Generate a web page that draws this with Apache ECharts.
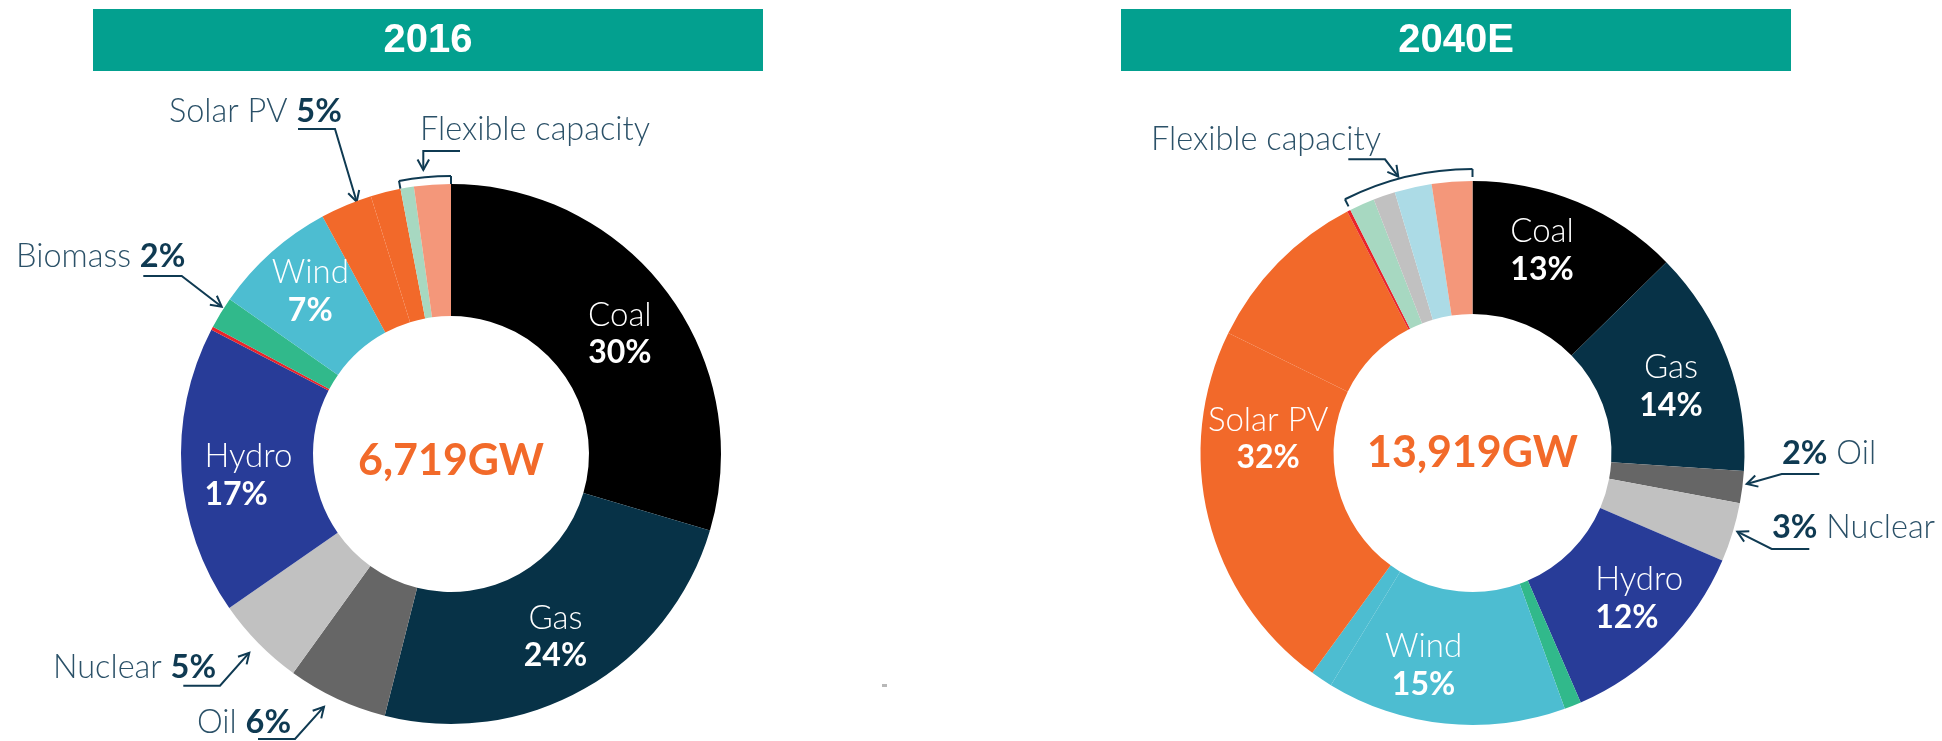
<!DOCTYPE html>
<html><head><meta charset="utf-8">
<script src="https://cdn.jsdelivr.net/npm/echarts@6/dist/echarts.min.js"></script>
<style>html,body{margin:0;padding:0;background:#fff}#c{width:1942px;height:741px}</style>
</head><body><div id="c"></div>
<script>
// ---------- data ----------
const years = ['2016', '2040E'];
const totals = ['6,719GW', '13,919GW'];

const names2016 = ['Coal', 'Gas', 'Oil', 'Nuclear', 'Hydro', 'Other', 'Biomass', 'Wind',
  'Solar PV (utility)', 'Solar PV (rooftop)', 'Flexible A', 'Flexible B'];
const values2016 = [29.6, 24.4, 6.0, 5.4, 17.3, 0.2, 1.9, 7.4, 3.1, 1.8, 0.8, 2.2];
const shown2016 = ['30%', '24%', '6%', '5%', '17%', '', '2%', '7%', '5%', '', '', ''];
const labelName2016 = ['Coal', 'Gas', 'Oil', 'Nuclear', 'Hydro', '', 'Biomass', 'Wind', 'Solar PV', '', '', ''];
const inside2016 = [1, 1, 0, 0, 1, 0, 0, 1, 0, 0, 0, 0];
const flex2016 = [10, 11];

const names2040 = ['Coal', 'Gas', 'Oil', 'Nuclear', 'Hydro', 'Biomass', 'Wind (onshore)', 'Wind (offshore)',
  'Solar PV (utility)', 'Solar PV (rooftop)', 'Other', 'Flexible A', 'Flexible B', 'Flexible C', 'Flexible D'];
const values2040 = [12.6, 13.4, 1.9, 3.5, 12.0, 1.0, 14.2, 1.3, 22.2, 10.1, 0.2, 1.5, 1.3, 2.2, 2.4];
const shown2040 = ['13%', '14%', '2%', '3%', '12%', '', '15%', '', '32%', '', '', '', '', '', ''];
const labelName2040 = ['Coal', 'Gas', 'Oil', 'Nuclear', 'Hydro', '', 'Wind', '', 'Solar PV', '', '', '', '', '', ''];
const inside2040 = [1, 1, 0, 0, 1, 0, 1, 0, 1, 0, 0, 0, 0, 0, 0];
const flex2040 = [11, 12, 13, 14];

// ---------- styles ----------
const colors2016 = ['#000000', '#073247', '#666666', '#c1c1c1', '#283c98', '#e9242b', '#31b98b', '#4dbdd1',
  '#f2692a', '#f2692a', '#a7d8c1', '#f4977a'];
const colors2040 = ['#000000', '#073247', '#666666', '#c1c1c1', '#283c98', '#31b98b', '#4dbdd1', '#4dbdd1',
  '#f2692a', '#f2692a', '#e9242b', '#a7d8c1', '#c1c1c1', '#acdbe6', '#f4977a'];

const TEAL = '#03a08f', ORANGE = '#f26a2a', INK = '#0f3a52', INK_LIGHT = '#2b5168';
const FONT = 'Lato, "Open Sans", sans-serif';

const layout = {
  centers: [[451, 454], [1472.5, 453]],
  radius: [[138, 270], [139, 272]],
  titleBars: [[93, 9, 670, 62], [1121, 9, 670, 62]],
  totalDy: [7, 0],
  // in-slice label nudges [dx, dy] by data index
  nudges: [
    {0: [3, 4], 1: [2, 3], 4: [4, 8], 7: [-3, -8]},
    {0: [-11, -10], 1: [3, 6], 4: [19, -2], 6: [-28, 5], 8: [-2, -64]}
  ],
  leftAlign: [{4: true}, {4: true}],
  bracket: [{r: 278, tick: 8}, {r: 284, tick: 8}]
};

function buildData(names, values, shown, labelNames, inside, colors, si) {
  return names.map((n, i) => ({
    name: n,
    value: values[i],
    itemStyle: {color: colors[i]},
    label: {
      show: !!inside[i],
      formatter: '{n|' + labelNames[i] + '}\n{p|' + shown[i] + '}',
      rich: {
        n: {fontFamily: FONT, fontWeight: 300, fontSize: 33, color: '#fff', lineHeight: 38,
            align: layout.leftAlign[si][i] ? 'left' : 'center'},
        p: {fontFamily: FONT, fontWeight: 'bold', fontSize: 32, color: '#fff', lineHeight: 38,
            align: layout.leftAlign[si][i] ? 'left' : 'center'}
      }
    }
  }));
}

function pieSeries(si, data) {
  return {
    type: 'pie',
    center: layout.centers[si],
    radius: layout.radius[si],
    startAngle: 90,
    clockwise: true,
    avoidLabelOverlap: false,
    silent: true,
    animation: false,
    emphasis: {disabled: true},
    itemStyle: {borderWidth: 0},
    label: {position: 'inside'},
    labelLine: {show: false},
    labelLayout: function (p) {
      const o = layout.nudges[si][p.dataIndex];
      return o ? {dx: o[0], dy: o[1]} : {};
    },
    data: data
  };
}

// ---------- graphics helpers ----------
const g = [];
function polyline(points, w) {
  g.push({type: 'polyline', silent: true, shape: {points: points},
    style: {stroke: INK, lineWidth: w || 2, fill: null, lineJoin: 'miter'}});
}
function arrow(points) {
  polyline(points);
  const t = points[points.length - 1], f = points[points.length - 2];
  const a = Math.atan2(t[1] - f[1], t[0] - f[0]);
  const L = 12, s = 0.5;
  const p1 = [t[0] - L * Math.cos(a - s), t[1] - L * Math.sin(a - s)];
  const p2 = [t[0] - L * Math.cos(a + s), t[1] - L * Math.sin(a + s)];
  polyline([p1, t, p2]);
}
function label(text, x, y) {
  g.push({type: 'text', silent: true, style: {
    text: text, x: x, y: y, verticalAlign: 'middle', align: 'left',
    rich: {
      n: {fontFamily: FONT, fontWeight: 300, fontSize: 32.5, fill: INK_LIGHT},
      b: {fontFamily: FONT, fontWeight: 'bold', fontSize: 32.5, fill: INK}
    }
  }});
}
function bracket(si, values, flexIdx) {
  const total = values.reduce((a, b) => a + b, 0);
  let before = 0;
  for (let i = 0; i < flexIdx[0]; i++) before += values[i];
  let upto = before;
  flexIdx.forEach(i => upto += values[i]);
  const th1 = before / total * 360, th2 = upto / total * 360;
  const [cx, cy] = layout.centers[si];
  const {r, tick} = layout.bracket[si];
  const rad = th => (th - 90) * Math.PI / 180;
  g.push({type: 'arc', silent: true, shape: {cx: cx, cy: cy, r: r, startAngle: rad(th1), endAngle: rad(th2), clockwise: true},
    style: {stroke: INK, lineWidth: 2, fill: null}});
  [th1, th2].forEach(th => {
    const a = rad(th);
    polyline([[cx + r * Math.cos(a), cy + r * Math.sin(a)], [cx + (r - tick) * Math.cos(a), cy + (r - tick) * Math.sin(a)]]);
  });
}

// title bars & totals
years.forEach((yr, si) => {
  const [x, y, w, h] = layout.titleBars[si];
  g.push({type: 'rect', silent: true, shape: {x: x, y: y, width: w, height: h}, style: {fill: TEAL}});
  g.push({type: 'text', silent: true, style: {text: yr, x: x + w / 2, y: y + h / 2 + 1, align: 'center', verticalAlign: 'middle',
    fontFamily: '"Liberation Sans", Arial, sans-serif', fontWeight: 'bold', fontSize: 40, fill: '#fff'}});
  const [cx, cy] = layout.centers[si];
  g.push({type: 'text', silent: true, style: {text: totals[si], x: cx, y: cy + layout.totalDy[si], align: 'center', verticalAlign: 'middle',
    fontFamily: FONT, fontWeight: 'bold', fontSize: 43, fill: ORANGE}});
});

// annotations - 2016
label('{n|Solar PV }{b|5%}', 169, 112);
arrow([[298, 129], [335, 129], [356.7, 201.7]]);
label('{n|Flexible capacity}', 420, 130);
arrow([[460, 151], [423.3, 151], [423.3, 170]]);
label('{n|Biomass }{b|2%}', 16, 257);
arrow([[143.3, 276], [181.7, 276], [221.7, 306.7]]);
label('{n|Nuclear }{b|5%}', 53, 668);
arrow([[183.3, 685.7], [220, 685.7], [249.3, 652.7]]);
label('{n|Oil }{b|6%}', 197, 723);
arrow([[258, 739], [295, 739], [324, 706.7]]);
bracket(0, values2016, flex2016);

// annotations - 2040E
label('{b|2%}{n| Oil}', 1782, 454);
arrow([[1819.3, 474], [1781.7, 474], [1746.7, 484]]);
label('{b|3%}{n| Nuclear}', 1772, 528);
arrow([[1809.3, 549], [1771.7, 549], [1737.3, 531.7]]);
label('{n|Flexible capacity}', 1151, 140);
arrow([[1348.3, 159.3], [1385, 159.3], [1398.3, 176.7]]);
bracket(1, values2040, flex2040);

// small stray mark in source image
g.push({type: 'rect', silent: true, shape: {x: 882, y: 684, width: 5, height: 3}, style: {fill: '#b8b8b8'}});

const chart = echarts.init(document.getElementById('c'), null, {renderer: 'canvas'});
chart.setOption({
  animation: false,
  backgroundColor: '#fff',
  series: [
    pieSeries(0, buildData(names2016, values2016, shown2016, labelName2016, inside2016, colors2016, 0)),
    pieSeries(1, buildData(names2040, values2040, shown2040, labelName2040, inside2040, colors2040, 1))
  ],
  graphic: {elements: g}
});
</script>
</body></html>
